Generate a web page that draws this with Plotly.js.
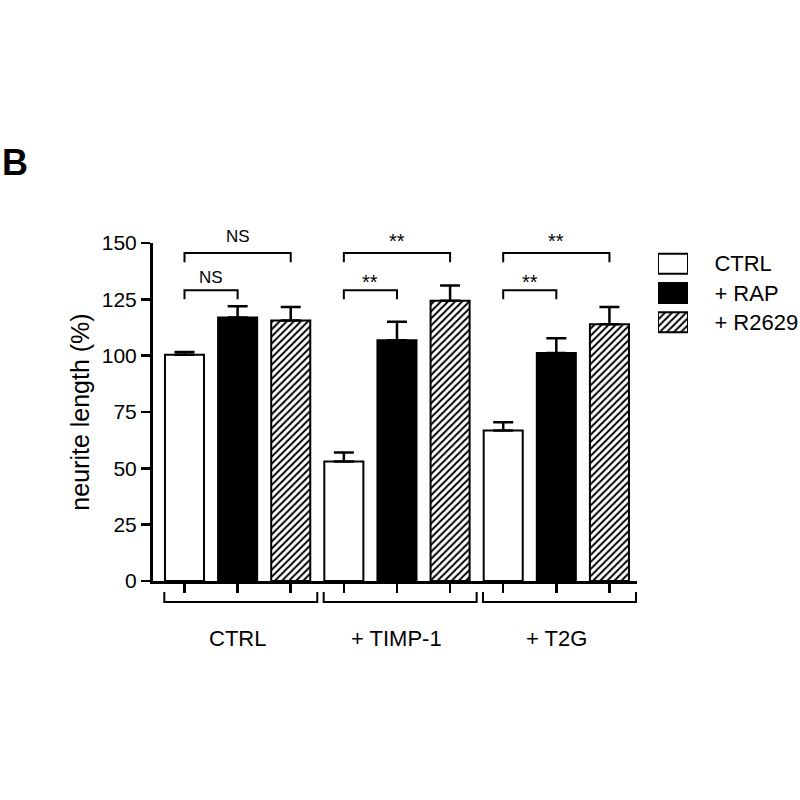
<!DOCTYPE html>
<html>
<head>
<meta charset="utf-8">
<script src="https://cdn.plot.ly/plotly-3.0.1.min.js"></script>
<style>html,body{margin:0;padding:0;background:#fff;}#chart{width:800px;height:800px;}</style>
</head>
<body>
<div id="chart"></div>
<script>
// ---- data ----
var groups = ['CTRL', '+ TIMP-1', '+ T2G'];
var seriesNames = ['CTRL', '+ RAP', '+ R2629'];
var ctrlVals = [100.4, 53.0, 66.8];
var ctrlErr = [1.2, 4.0, 3.6];
var rapVals = [116.9, 106.8, 101.2];
var rapErr = [5.0, 8.2, 6.5];
var r2629Vals = [115.6, 124.4, 113.9];
var r2629Err = [6.0, 6.7, 7.7];
var sigLower = ['NS', '**', '**'];   // CTRL vs + RAP
var sigUpper = ['NS', '**', '**'];   // CTRL vs + R2629
var yTicks = [0, 25, 50, 75, 100, 125, 150];

var FONT = 'Liberation Sans, Arial, Helvetica, sans-serif';
var YMAX = 150;
var values = [ctrlVals, rapVals, r2629Vals];
var errs = [ctrlErr, rapErr, r2629Err];
var markers = [
  {color: '#ffffff', line: {color: '#000', width: 2}},
  {color: '#000000', line: {color: '#000', width: 2}},
  {color: '#ffffff', line: {color: '#000', width: 2},
   pattern: {shape: '/', fgcolor: '#000', bgcolor: '#fff', size: 5, solidity: 0.4, fillmode: 'replace'}}
];

var traces = [];
values.forEach(function (vals, si) {
  traces.push({
    type: 'bar',
    name: seriesNames[si],
    x: groups.map(function (g, gi) { return gi * 3 + si; }),
    y: vals,
    width: 0.735,
    marker: markers[si],
    error_y: {type: 'data', symmetric: false, array: errs[si],
              arrayminus: vals.map(function () { return 0; }),
              color: '#000', thickness: 2.5, width: 10},
    showlegend: false,
    hoverinfo: 'skip'
  });
});
// legend boxes drawn on a small helper subplot
seriesNames.forEach(function (name, si) {
  traces.push({
    type: 'bar', orientation: 'h',
    x: [1], y: [name],
    width: 0.68,
    marker: markers[si],
    xaxis: 'x2', yaxis: 'y2',
    showlegend: false, hoverinfo: 'skip'
  });
});

var shapes = [];
var annotations = [];
var line = {color: '#000', width: 2};
function sigFont(t) { return {family: FONT, size: t === '**' ? 20 : 17, color: '#000'}; }
groups.forEach(function (g, gi) {
  var a = gi * 3, b = gi * 3 + 1, c = gi * 3 + 2;
  // group bracket under axis
  shapes.push({type: 'path', xref: 'x', yref: 'paper', line: line,
    path: 'M' + (a - 0.38) + ',-0.0325 L' + (a - 0.38) + ',-0.0621 L' + (c + 0.5) + ',-0.0621 L' + (c + 0.5) + ',-0.0325'});
  annotations.push({xref: 'x', yref: 'paper', x: b, y: -0.169, text: g, showarrow: false,
    xanchor: 'center', yanchor: 'middle', font: {family: FONT, size: 22, color: '#000'}});
  // significance brackets
  shapes.push({type: 'path', xref: 'x', yref: 'y', line: line,
    path: 'M' + a + ',125 L' + a + ',129 L' + b + ',129 L' + b + ',125'});
  shapes.push({type: 'path', xref: 'x', yref: 'y', line: line,
    path: 'M' + a + ',141.5 L' + a + ',145.6 L' + c + ',145.6 L' + c + ',141.5'});
  annotations.push({xref: 'x', yref: 'y', x: (a + b) / 2, y: sigLower[gi] === '**' ? 132.5 : 134.7,
    text: sigLower[gi], showarrow: false, xanchor: 'center', yanchor: 'middle',
    font: sigFont(sigLower[gi])});
  // upper label sits above the axis top, so place it in paper units derived from the value
  annotations.push({xref: 'x', yref: 'paper', x: (a + c) / 2,
    y: (sigUpper[gi] === '**' ? 150.8 : 153) / YMAX,
    text: sigUpper[gi], showarrow: false, xanchor: 'center', yanchor: 'middle',
    font: sigFont(sigUpper[gi])});
});
annotations.push({xref: 'paper', yref: 'paper', x: -0.2365, y: 1.2367, text: '<b>B</b>',
  showarrow: false, xanchor: 'left', yanchor: 'middle', font: {family: FONT, size: 36, color: '#000'}});

var layout = {
  width: 800, height: 800,
  margin: {l: 153, r: 0, t: 243, b: 219, pad: 0},
  paper_bgcolor: '#fff', plot_bgcolor: '#fff',
  barmode: 'overlay',
  font: {family: FONT, color: '#000'},
  xaxis: {
    domain: [0, 0.748], range: [-0.593, 8.518],
    tickvals: groups.flatMap(function (g, gi) { return [gi * 3, gi * 3 + 1, gi * 3 + 2]; }),
    ticktext: ['', '', '', '', '', '', '', '', ''],
    ticks: 'outside', ticklen: 9, tickwidth: 2.5, tickcolor: '#000',
    showline: true, linecolor: '#000', linewidth: 3,
    showgrid: false, zeroline: false, fixedrange: true
  },
  yaxis: {
    range: [0, YMAX], tickvals: yTicks,
    ticks: 'outside', ticklen: 9, tickwidth: 2.5, tickcolor: '#000',
    showline: true, linecolor: '#000', linewidth: 3,
    showgrid: false, zeroline: false,
    tickfont: {family: FONT, size: 21, color: '#000'},
    title: {text: 'neurite length (%)', font: {family: FONT, size: 25, color: '#000'}, standoff: 6}
  },
  xaxis2: {domain: [0.7805, 0.8269], range: [0, 1], anchor: 'y2',
    showticklabels: false, showgrid: false, zeroline: false, showline: false, ticks: ''},
  yaxis2: {domain: [0.7219, 0.9822], anchor: 'x2', side: 'right', autorange: 'reversed',
    showgrid: false, zeroline: false, showline: false,
    ticks: 'outside', ticklen: 21, tickcolor: 'rgba(0,0,0,0)',
    tickfont: {family: FONT, size: 22, color: '#000'}},
  shapes: shapes,
  annotations: annotations
};

Plotly.newPlot('chart', traces, layout, {displayModeBar: false, staticPlot: true});
</script>
</body>
</html>
